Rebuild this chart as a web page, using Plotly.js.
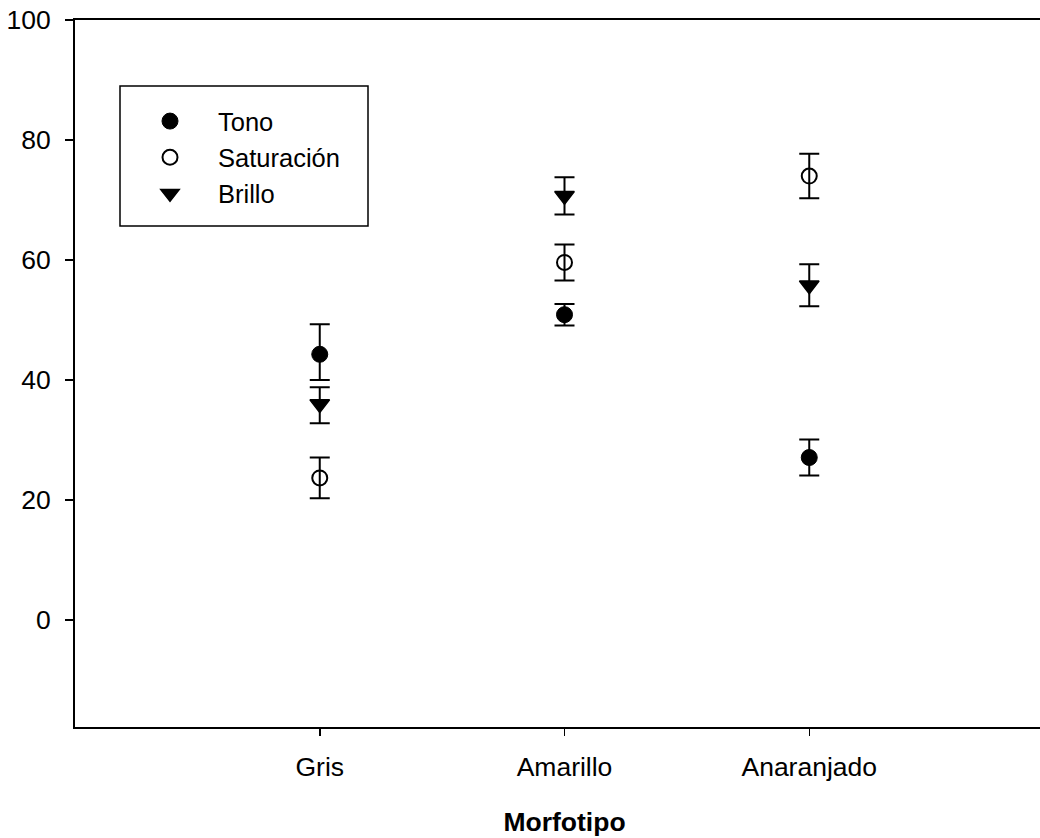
<!DOCTYPE html>
<html>
<head>
<meta charset="utf-8">
<script src="https://cdn.plot.ly/plotly-3.0.1.min.js"></script>
<style>html,body{margin:0;padding:0;background:#fff;overflow:hidden;}#chart{width:1054px;height:838px;}</style>
</head>
<body>
<div id="chart"></div>
<script>
var categories = ["Gris", "Amarillo", "Anaranjado"];
var categoryPos = [1, 2, 3];

var tonoValues = [44.3, 50.9, 27.1];
var tonoErrPlus = [5.0, 1.8, 3.0];
var tonoErrMinus = [4.3, 1.8, 3.0];

var saturacionValues = [23.7, 59.6, 74.0];
var saturacionErrPlus = [3.4, 3.0, 3.7];
var saturacionErrMinus = [3.4, 3.0, 3.7];

var brilloValues = [36.0, 70.7, 55.8];
var brilloErrPlus = [2.8, 3.1, 3.5];
var brilloErrMinus = [3.2, 3.1, 3.5];

var yTicks = [0, 20, 40, 60, 80, 100];

function errObj(plus, minus) {
  return {type: "data", symmetric: false, array: plus, arrayminus: minus,
          color: "#000", thickness: 2, width: 10, visible: true};
}

var traces = [
  {x: categoryPos, y: tonoValues, name: "Tono", type: "scatter", mode: "markers",
   marker: {symbol: "circle", size: 16, color: "#000", line: {color: "#000", width: 1}},
   error_y: errObj(tonoErrPlus, tonoErrMinus)},
  {x: categoryPos, y: saturacionValues, name: "Saturación", type: "scatter", mode: "markers",
   marker: {symbol: "circle-open", size: 15, color: "#000", line: {color: "#000", width: 2}},
   error_y: errObj(saturacionErrPlus, saturacionErrMinus)},
  {x: categoryPos, y: brilloValues, name: "Brillo", type: "scatter", mode: "markers",
   marker: {symbol: "triangle-down", size: 17, color: "#000", line: {color: "#000", width: 1.5}},
   error_y: errObj(brilloErrPlus, brilloErrMinus)}
];

var font = "Liberation Sans, Arial, Helvetica, sans-serif";
var FS = 26.5;
var LFS = 25.5;
var W = 1054, H = 838;
var L = 75, R = 1054, T = 20, B = 727;
function px(x) { return (x - L) / (R - L); }
function py(y) { return (B - y) / (B - T); }

var layout = {
  width: W, height: H,
  margin: {l: L, r: W - R, t: T, b: H - B, pad: 0},
  paper_bgcolor: "#fff", plot_bgcolor: "#fff",
  font: {family: font, size: FS, color: "#000"},
  showlegend: true,
  legend: {
    x: px(122), y: py(98), xanchor: "left", yanchor: "top",
    bgcolor: "rgba(0,0,0,0)", borderwidth: 0,
    font: {family: font, size: LFS, color: "#000"},
    itemwidth: 86, itemclick: false
  },
  shapes: [
    {type: "rect", xref: "paper", yref: "paper",
     x0: px(120), x1: px(368), y0: py(226), y1: py(86),
     line: {color: "#000", width: 1.5}, fillcolor: "rgba(0,0,0,0)"}
  ],
  xaxis: {
    range: [0, 4], tickvals: categoryPos, ticktext: categories,
    showgrid: false, zeroline: false, showline: true, mirror: true,
    linecolor: "#000", linewidth: 2,
    ticks: "outside", ticklen: 7, tickwidth: 1.5, tickcolor: "#000",
    ticklabelstandoff: 8,
    tickfont: {family: font, size: FS, color: "#000"},
    title: {text: "<b>Morfotipo</b>", font: {family: font, size: FS, color: "#000"}, standoff: 32}
  },
  yaxis: {
    range: [-17.8, 100], tickvals: yTicks,
    showgrid: false, zeroline: false, showline: true, mirror: false,
    linecolor: "#000", linewidth: 2,
    ticks: "outside", ticklen: 8, tickwidth: 1.5, tickcolor: "#000",
    ticklabelstandoff: 9,
    tickfont: {family: font, size: FS, color: "#000"}
  }
};

Plotly.newPlot("chart", traces, layout, {displayModeBar: false, staticPlot: true});
</script>
</body>
</html>
